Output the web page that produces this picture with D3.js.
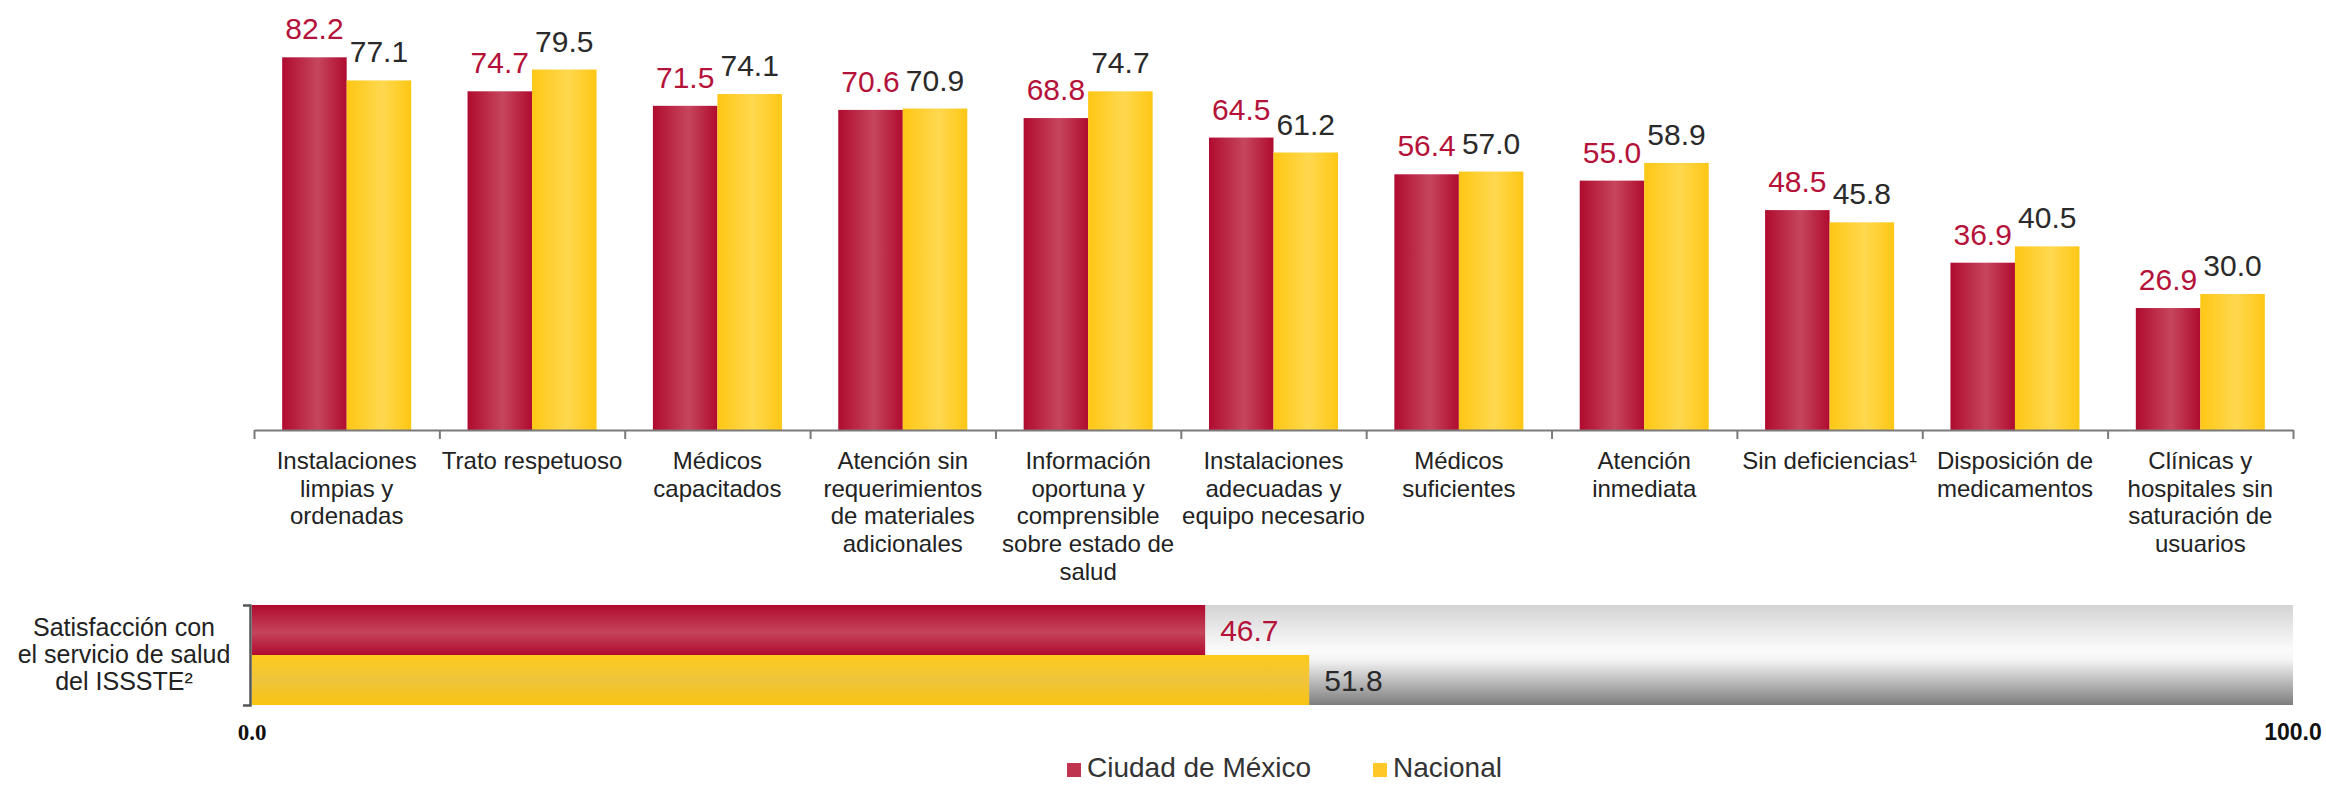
<!DOCTYPE html>
<html>
<head>
<meta charset="utf-8">
<script src="https://cdn.jsdelivr.net/npm/d3@7"></script>
<style>
  body { margin: 0; background: #fff; }
  svg { display: block; }
</style>
</head>
<body>
<svg id="chart" width="2326" height="786"></svg>
<script>
// categories, one entry per group, already split into label lines
const categories = [
  ["Instalaciones", "limpias y", "ordenadas"],
  ["Trato respetuoso"],
  ["Médicos", "capacitados"],
  ["Atención sin", "requerimientos", "de materiales", "adicionales"],
  ["Información", "oportuna y", "comprensible", "sobre estado de", "salud"],
  ["Instalaciones", "adecuadas y", "equipo necesario"],
  ["Médicos", "suficientes"],
  ["Atención", "inmediata"],
  ["Sin deficiencias¹"],
  ["Disposición de", "medicamentos"],
  ["Clínicas y", "hospitales sin", "saturación de", "usuarios"]
];
const seriesNames = ["Ciudad de México", "Nacional"];
const cdmx = [82.2, 74.7, 71.5, 70.6, 68.8, 64.5, 56.4, 55.0, 48.5, 36.9, 26.9];
const nacional = [77.1, 79.5, 74.1, 70.9, 74.7, 61.2, 57.0, 58.9, 45.8, 40.5, 30.0];

const summaryLabel = ["Satisfacción con", "el servicio de salud", "del ISSSTE²"];
const summaryValues = [46.7, 51.8];
const summaryTicks = [0, 100];

const labelColors = ["#b5123a", "#2a2a2a"];
const sans = "'Liberation Sans', Arial, sans-serif";

const svg = d3.select("#chart");
const defs = svg.append("defs");

// bar gradients: vertical bars shade left-right, horizontal bars top-bottom
function grad(id, horizontal, stops) {
  const g = defs.append("linearGradient").attr("id", id)
    .attr("x1", 0).attr("y1", 0)
    .attr("x2", horizontal ? 1 : 0).attr("y2", horizontal ? 0 : 1);
  stops.forEach(s => g.append("stop").attr("offset", s[0]).attr("stop-color", s[1]));
}
grad("redV", true, [[0, "#b00b2f"], [0.55, "#c6465e"], [1, "#b00b2f"]]);
grad("yelV", true, [[0, "#fec714"], [0.55, "#ffd84f"], [1, "#fec714"]]);
grad("redH", false, [[0, "#b00b2f"], [0.55, "#c4445c"], [1, "#b00b2f"]]);
grad("yelH", false, [[0, "#fdcb1a"], [0.5, "#efc43c"], [1, "#f9c412"]]);
grad("bgH", false, [[0, "#d4d4d4"], [0.45, "#fbfbfb"], [0.55, "#f4f4f4"], [1, "#7d7d7d"]]);

// ---- top: grouped columns ----
const baseY = 430;
const x0 = d3.scaleBand().domain(d3.range(categories.length)).range([254, 2293]).padding(0);
const bw = x0.bandwidth();
const x1 = d3.scaleBand().domain([0, 1]).range([bw * 0.152, bw * 0.848]);
const y = d3.scaleLinear().domain([0, 100]).range([baseY, baseY - 453.4]);

const rows = categories.map((c, i) => ({ i, vals: [cdmx[i], nacional[i]] }));

const groups = svg.append("g").selectAll("g")
  .data(rows).enter().append("g")
  .attr("transform", d => `translate(${x0(d.i)},0)`);

groups.selectAll("rect")
  .data(d => d.vals.map((v, s) => ({ v, s })))
  .enter().append("rect")
  .attr("x", d => x1(d.s))
  .attr("y", d => y(d.v))
  .attr("width", x1.bandwidth())
  .attr("height", d => baseY - y(d.v))
  .attr("fill", d => d.s === 0 ? "url(#redV)" : "url(#yelV)");

groups.selectAll("text.val")
  .data(d => d.vals.map((v, s) => ({ v, s })))
  .enter().append("text")
  .attr("class", "val")
  .attr("x", d => x1(d.s) + x1.bandwidth() / 2)
  .attr("y", d => y(d.v) - 18)
  .attr("text-anchor", "middle")
  .style("font-family", sans)
  .style("font-size", "30px")
  .attr("fill", d => labelColors[d.s])
  .text(d => d.v.toFixed(1));

// axis with ticks on the group boundaries
const xb = d3.scaleLinear().domain([0, categories.length]).range([254, 2293]);
const xAxis = svg.append("g")
  .attr("transform", `translate(0,${baseY})`)
  .call(d3.axisBottom(xb).tickValues(d3.range(categories.length + 1))
    .tickSize(9).tickSizeOuter(0).tickFormat(""));
xAxis.selectAll("path, line").attr("stroke", "#7a7a7a").attr("stroke-width", 2);

const catText = svg.append("g").selectAll("text")
  .data(categories).enter().append("text")
  .attr("x", (d, i) => x0(i) + bw / 2)
  .attr("y", 469)
  .attr("text-anchor", "middle")
  .style("font-family", sans)
  .style("font-size", "24px")
  .attr("fill", "#222");
catText.selectAll("tspan")
  .data(d => d).enter().append("tspan")
  .attr("x", function () { return this.parentNode.getAttribute("x"); })
  .attr("dy", (d, i) => i === 0 ? 0 : 27.7)
  .text(d => d);

// ---- bottom: satisfaction bars ----
const xs = d3.scaleLinear().domain([0, 100]).range([252, 2293]);
const ys = d3.scaleBand().domain([0, 1]).range([605, 705]);

svg.append("rect")
  .attr("x", xs(0)).attr("y", ys.range()[0])
  .attr("width", xs(100) - xs(0))
  .attr("height", ys.range()[1] - ys.range()[0])
  .attr("fill", "url(#bgH)");

svg.append("g").selectAll("rect")
  .data(summaryValues).enter().append("rect")
  .attr("x", xs(0))
  .attr("y", (d, i) => ys(i))
  .attr("width", d => xs(d) - xs(0))
  .attr("height", ys.bandwidth())
  .attr("fill", (d, i) => i === 0 ? "url(#redH)" : "url(#yelH)");

svg.append("g").selectAll("text")
  .data(summaryValues).enter().append("text")
  .attr("x", d => xs(d) + 15)
  .attr("y", (d, i) => ys(i) + ys.bandwidth() / 2 + 11)
  .style("font-family", sans)
  .style("font-size", "30px")
  .attr("fill", (d, i) => labelColors[i])
  .text(d => d.toFixed(1));

const yAxis = svg.append("g")
  .attr("transform", `translate(${xs(0) - 2},0)`)
  .call(d3.axisLeft(ys).tickSize(0).tickSizeOuter(7).tickFormat(""));
yAxis.selectAll("path").attr("stroke", "#555").attr("stroke-width", 2.5);

const sl = svg.append("text")
  .attr("x", 124).attr("y", 636)
  .attr("text-anchor", "middle")
  .style("font-family", sans)
  .style("font-size", "25px")
  .attr("fill", "#222");
sl.selectAll("tspan").data(summaryLabel).enter().append("tspan")
  .attr("x", 124)
  .attr("dy", (d, i) => i === 0 ? 0 : 27)
  .text(d => d);

svg.append("g").selectAll("text")
  .data(summaryTicks).enter().append("text")
  .attr("x", d => xs(d))
  .attr("y", 740)
  .attr("text-anchor", "middle")
  .style("font-family", (d, i) => i === 0 ? "'Liberation Serif', serif" : sans)
  .style("font-weight", "bold")
  .style("font-size", "23px")
  .attr("fill", "#111")
  .text(d => d.toFixed(1));

// ---- legend ----
const legendX = [1067, 1373];
const legend = svg.append("g").selectAll("g")
  .data(seriesNames).enter().append("g")
  .attr("transform", (d, i) => `translate(${legendX[i]},0)`);
legend.append("rect")
  .attr("x", 0).attr("y", 763)
  .attr("width", 14).attr("height", 14)
  .attr("fill", (d, i) => i === 0 ? "#c0334f" : "#ffc829");
legend.append("text")
  .attr("x", 20).attr("y", 777)
  .style("font-family", sans)
  .style("font-size", "28px")
  .attr("fill", "#333")
  .text(d => d);
</script>
</body>
</html>
